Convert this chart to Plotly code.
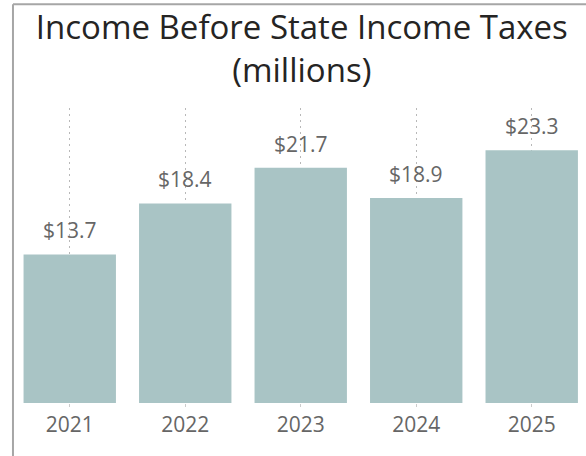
import plotly.graph_objects as go

# Income before state income taxes, in millions of dollars
years = ["2021", "2022", "2023", "2024", "2025"]
income = [13.7, 18.4, 21.7, 18.9, 23.3]
value_labels = [f"${v:.1f}" for v in income]

BAR_COLOR = "#a9c4c5"
TEXT_GRAY = "#666666"
TITLE_COLOR = "#252423"
FRAME_GRAY = "#a6a6a6"
LABEL_FONT = "Open Sans, sans-serif"

fig = go.Figure(
    go.Bar(
        x=years,
        y=income,
        marker=dict(color=BAR_COLOR, line=dict(width=0)),
        hoverinfo="skip",
    )
)

# value labels sitting above each bar (category axis -> positional index)
for i, (v, lab) in enumerate(zip(income, value_labels)):
    fig.add_annotation(
        x=i, y=v, xref="x", yref="y", text=lab, showarrow=False,
        yanchor="middle", yshift=24,
        font=dict(family=LABEL_FONT, size=21, color=TEXT_GRAY),
    )

# panel frame: left and top edges
fig.add_shape(type="line", xref="paper", yref="paper",
              x0=0.0017, x1=0.0017, y0=-0.2, y1=1.352,
              line=dict(color=FRAME_GRAY, width=2))
fig.add_shape(type="line", xref="paper", yref="paper",
              x0=0.0017, x1=1.0, y0=1.352, y1=1.352,
              line=dict(color=FRAME_GRAY, width=2))

fig.update_layout(
    width=586, height=456,
    margin=dict(l=12, r=0, t=108, b=53),
    paper_bgcolor="white", plot_bgcolor="white",
    bargap=0.2,
    showlegend=False,
    title=dict(
        text="Income Before State Income Taxes<br>(millions)",
        x=0.515, xanchor="center", y=0.915, yanchor="top",
        font=dict(family="Open Sans, sans-serif", size=33, color=TITLE_COLOR),
    ),
    xaxis=dict(
        type="category",
        range=[-0.5, 4.47],
        showline=False, zeroline=False,
        showgrid=True, gridcolor="#b8b8b8", gridwidth=1, griddash="2px,4px",
        ticks="outside", ticklen=3, tickcolor="#cccccc",
        tickfont=dict(family=LABEL_FONT, size=21, color=TEXT_GRAY),
    ),
    yaxis=dict(
        range=[0, 27.2],
        visible=False,
        showgrid=False, zeroline=False,
    ),
)

fig.write_html("out.html")
